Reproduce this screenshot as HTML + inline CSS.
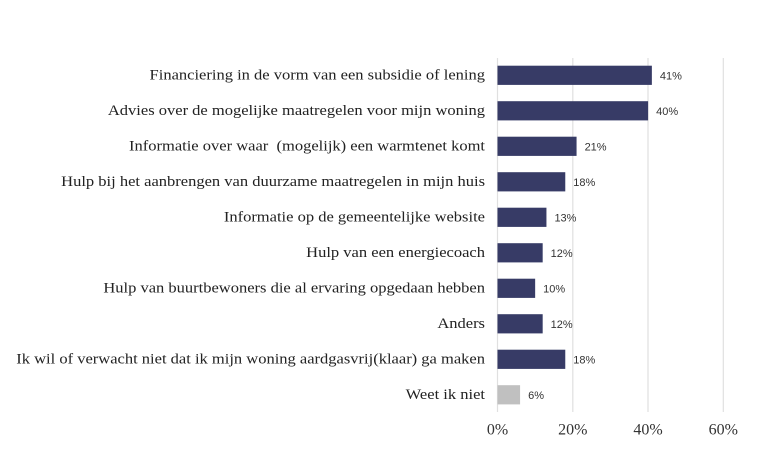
<!DOCTYPE html>
<html><head><meta charset="utf-8"><style>
body{margin:0;background:#fff}
svg{display:block}
.l{font-family:"Liberation Serif",serif;font-size:15px;fill:#222;text-anchor:end;dominant-baseline:central}
.v{font-family:"Liberation Sans",sans-serif;font-size:11px;fill:#333;dominant-baseline:central}
.a{font-family:"Liberation Serif",serif;font-size:16px;fill:#333;text-anchor:middle;dominant-baseline:central}
</style></head><body>
<svg width="763" height="454" xmlns="http://www.w3.org/2000/svg">
<g stroke="#e0e0e0" stroke-width="1.2">
<line x1="497.5" y1="58" x2="497.5" y2="412"/><line x1="572.8" y1="58" x2="572.8" y2="412"/>
<line x1="648" y1="58" x2="648" y2="412"/><line x1="723.3" y1="58" x2="723.3" y2="412"/>
</g>
<g id="bars"></g>
<text class="a" x="497.5" y="430">0%</text><text class="a" x="572.8" y="430">20%</text>
<text class="a" x="648" y="430">40%</text><text class="a" x="723.3" y="430">60%</text>
</svg>
<script>
var d=[["Financiering in de vorm van een subsidie of lening",41],["Advies over de mogelijke maatregelen voor mijn woning",40],["Informatie over waar  (mogelijk) een warmtenet komt",21],["Hulp bij het aanbrengen van duurzame maatregelen in mijn huis",18],["Informatie op de gemeentelijke website",13],["Hulp van een energiecoach",12],["Hulp van buurtbewoners die al ervaring opgedaan hebben",10],["Anders",12],["Ik wil of verwacht niet dat ik mijn woning aardgasvrij(klaar) ga maken",18],["Weet ik niet",6]];
var g=document.getElementById('bars'),s='';
d.forEach(function(r,i){var c=75.3+35.5*i,w=r[1]*3.765;
s+='<rect x="497.5" y="'+(c-9.6)+'" width="'+w+'" height="19.2" fill="'+(i==9?'#c0c0c0':'#373b66')+'"/>';
s+='<text class="l" x="485" y="'+c+'" xml:space="preserve">'+r[0]+'</text>';
s+='<text class="v" x="'+(497.5+w+8)+'" y="'+(c+1)+'">'+r[1]+'%</text>';});
g.innerHTML=s;
var ls=document.querySelectorAll('.l');
for(var k=0;k<ls.length;k++){var L=ls[k].getComputedTextLength();ls[k].setAttribute('textLength',L*1.1);ls[k].setAttribute('lengthAdjust','spacingAndGlyphs');}
</script>
</body></html>
